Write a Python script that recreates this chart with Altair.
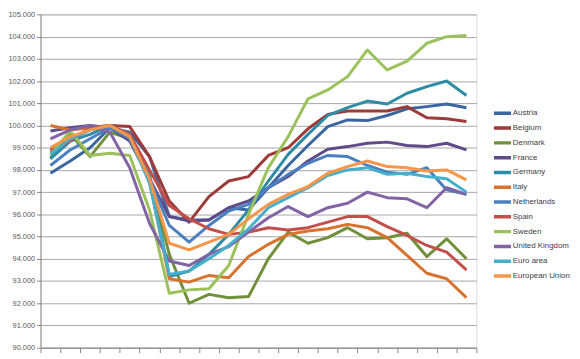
import altair as alt
import pandas as pd

countries = ["Austria", "Belgium", "Denmark", "France", "Germany", "Italy",
             "Netherlands", "Spain", "Sweden", "United Kingdom", "Euro area", "European Union"]
colors = ["#3A67A0", "#9C3B38", "#71903A", "#5F4B88", "#2F8CA6", "#D8732F",
          "#4A7FC0", "#C44E4A", "#9BC25A", "#8264A6", "#46B0CC", "#F7964A"]

austria = [97.85, 98.4, 99.0, 99.9, 99.7, 98.6, 95.9, 95.75, 95.75, 96.3, 96.2, 97.2, 98.2, 99.1, 99.95, 100.25, 100.22, 100.45, 100.75, 100.85, 100.97, 100.8]
belgium = [98.9, 99.4, 99.8, 100.0, 99.95, 98.6, 96.6, 95.65, 96.8, 97.5, 97.7, 98.65, 99.0, 99.85, 100.5, 100.65, 100.65, 100.65, 100.85, 100.35, 100.3, 100.18]
denmark = [98.55, 99.6, 98.6, 99.7, 99.4, 97.6, 94.2, 92.0, 92.4, 92.25, 92.3, 94.0, 95.2, 94.7, 94.95, 95.4, 94.9, 94.95, 95.15, 94.1, 94.9, 94.0]
france = [99.75, 99.9, 100.0, 99.9, 99.3, 97.6, 95.9, 95.7, 95.75, 96.3, 96.6, 97.2, 97.7, 98.4, 98.93, 99.05, 99.2, 99.25, 99.1, 99.05, 99.2, 98.9]
germany = [98.5, 99.3, 99.6, 100.0, 99.6, 97.8, 93.2, 93.45, 94.2, 95.1, 96.2, 97.5, 98.7, 99.6, 100.45, 100.8, 101.1, 100.97, 101.45, 101.75, 102.0, 101.35]
italy = [100.0, 99.8, 99.9, 100.0, 99.6, 97.5, 93.1, 92.95, 93.25, 93.15, 94.1, 94.65, 95.1, 95.25, 95.35, 95.55, 95.4, 94.95, 94.15, 93.35, 93.1, 92.25]
netherlands = [98.2, 98.9, 99.4, 99.9, 99.4, 97.6, 95.5, 94.75, 95.5, 96.15, 96.45, 97.2, 97.8, 98.3, 98.65, 98.6, 98.2, 97.9, 97.8, 98.1, 97.1, 96.9]
spain = [98.8, 99.3, 99.9, 100.0, 99.6, 98.0, 96.4, 95.8, 95.35, 95.1, 95.2, 95.4, 95.3, 95.4, 95.65, 95.9, 95.9, 95.45, 95.05, 94.6, 94.3, 93.5]
sweden = [98.7, 99.75, 98.65, 98.75, 98.65, 96.2, 92.45, 92.6, 92.65, 93.7, 96.0, 98.1, 99.5, 101.2, 101.6, 102.2, 103.4, 102.5, 102.9, 103.7, 104.0, 104.05]
uk = [99.4, 99.8, 100.0, 99.7, 98.1, 95.6, 93.9, 93.7, 94.2, 94.55, 95.2, 95.85, 96.35, 95.9, 96.3, 96.5, 97.0, 96.75, 96.7, 96.3, 97.2, 96.9]
euro_area = [98.7, 99.4, 99.8, 100.0, 99.5, 97.4, 93.3, 93.45, 94.0, 94.6, 95.35, 96.3, 96.75, 97.2, 97.75, 98.0, 98.1, 97.8, 97.85, 97.7, 97.6, 97.0]
eu = [99.0, 99.5, 99.8, 100.0, 99.5, 97.6, 94.7, 94.4, 94.75, 95.1, 95.8, 96.45, 96.9, 97.25, 97.85, 98.15, 98.4, 98.15, 98.1, 97.95, 98.0, 97.55]

series = [austria, belgium, denmark, france, germany, italy,
          netherlands, spain, sweden, uk, euro_area, eu]

rows = []
for k, (name, vals) in enumerate(zip(countries, series)):
    for i, v in enumerate(vals):
        rows.append({"country": name, "order": k, "x": i + 0.5, "value": v})
df = pd.DataFrame(rows)

n = len(austria)

chart = alt.Chart(df).mark_line(strokeWidth=3, strokeJoin="round").encode(
    x=alt.X("x:Q", scale=alt.Scale(domain=[0, n], nice=False, zero=False),
            axis=alt.Axis(values=list(range(n + 1)), labels=False, title=None,
                          grid=False, tickSize=5, tickColor="#868686",
                          domainColor="#868686")),
    y=alt.Y("value:Q", scale=alt.Scale(domain=[90, 105], nice=False, zero=False),
            axis=alt.Axis(values=list(range(90, 106)), format=".3f", title=None,
                          grid=True, gridColor="#A6A6A6", tickSize=4,
                          tickColor="#868686", domainColor="#868686",
                          labelFontSize=7.5, labelColor="#595959",
                          labelFont="Liberation Sans", labelPadding=2)),
    color=alt.Color("country:N",
                    scale=alt.Scale(domain=countries, range=colors),
                    sort=countries,
                    legend=alt.Legend(orient="none", legendX=458, legendY=93,
                                      title=None, symbolType="stroke",
                                      symbolStrokeWidth=3.5, symbolSize=300,
                                      labelFontSize=8, labelColor="#404040",
                                      labelFont="Liberation Sans",
                                      rowPadding=0, clipHeight=14.6,
                                      labelOffset=0, padding=0)),
    detail="order:O",
    order="order:O",
).properties(
    width=442, height=338,
    autosize=alt.AutoSizeParams(type="none"),
    padding={"left": 33, "top": 4, "right": 97, "bottom": 8},
).configure_view(stroke=None).configure(background="white")

chart.save("out.html", embed_options={"renderer": "svg", "actions": False})
